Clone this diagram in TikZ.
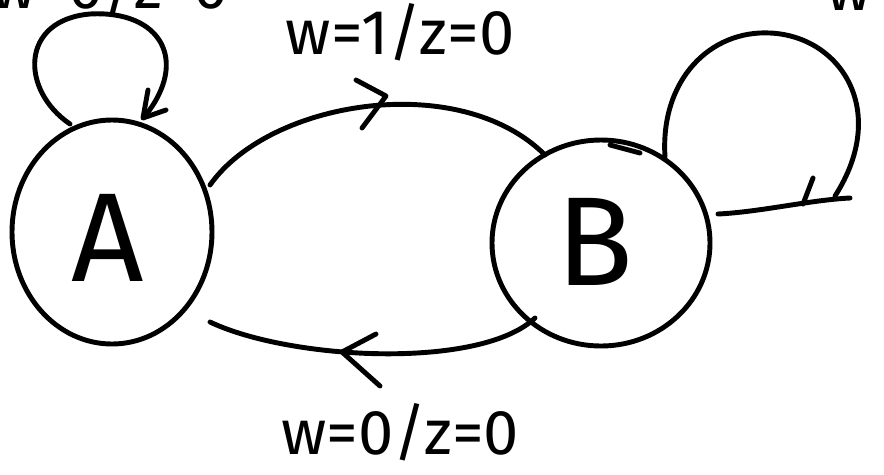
\documentclass[tikz,border=0pt]{standalone}
\usepackage{fontspec}
\setmainfont{Fira Sans}
\begin{document}
\begin{tikzpicture}[x=0.02cm,y=-0.02cm,
  stroke/.style={line width=2.8pt,line cap=round,line join=round},
  state/.style={stroke},
  letter/.style={font=\fontsize{72}{72}\selectfont},
  lbl/.style={font=\fontsize{36}{36}\selectfont}]
\useasboundingbox (0,0) rectangle (884,474);
\clip (0,0) rectangle (884,474);

% states
\draw[state] (112,232) ellipse [x radius=100, y radius=112];
\draw[state] (601,243) ellipse [x radius=109, y radius=103];
\node[letter] (A) at (108,238) {A};
\node[letter] (B) at (595,242) {B};

% named points on the state outlines
\coordinate (a1) at (210,185);
\coordinate (b1) at (545,155);
\coordinate (b2) at (535,318);
\coordinate (a2) at (210,322);
\coordinate (a3) at (70,124);
\coordinate (a4) at (145,116);
\coordinate (b3) at (665,157);
\coordinate (b4) at (718,214);

% A -> B on w=1
\draw[stroke] (a1) .. controls (270,100) and (460,70) .. (b1);
\draw[stroke] (356,80) -- (386,96) -- (362,128);
% B -> A on w=0
\draw[stroke] (b2) .. controls (480,370) and (290,360) .. (a2);
\draw[stroke] (376,334) -- (342,352) -- (380,386);

% self loop on A
\draw[stroke] (a3) .. controls (20,90) and (20,20) .. (90,14)
  .. controls (160,10) and (190,60) .. (a4);
\draw[stroke] (148,90) -- (143,118) -- (166,110);

% self loop on B
\draw[stroke] (b3) .. controls (660,80) and (710,30) .. (770,33)
  .. controls (840,36) and (890,110) .. (835,196);
\draw[stroke] (b4) .. controls (760,212) and (810,200) .. (850,198);
\draw[stroke] (813,178) -- (803,204);

% pen mark on B
\draw[stroke] (610,145) -- (640,153);

% transition labels
\node[lbl] (l1) at (400,32) {w=1/z=0};
\node[lbl] (l2) at (400,432) {w=0/z=0};
\node[lbl] (l3) at (110,-14) {w=0/z=0};
\node[lbl,anchor=west] (l4) at (820,-6) {w};
\end{tikzpicture}
\end{document}
